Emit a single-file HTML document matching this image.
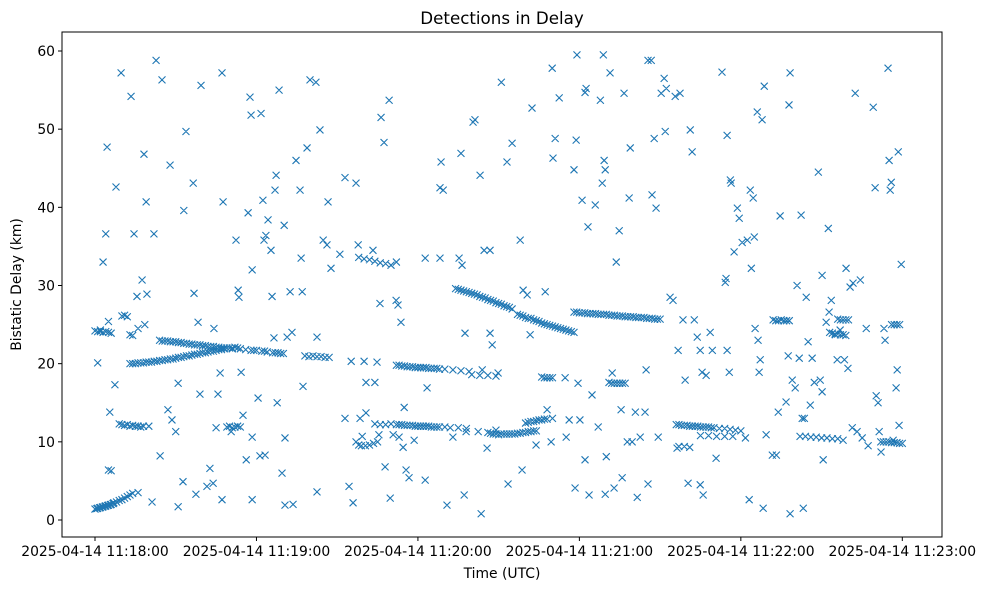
<!DOCTYPE html>
<html><head><meta charset="utf-8"><style>
body{margin:0;background:#fff;}
svg{display:block;font-family:"DejaVu Sans","Liberation Sans",sans-serif;}
</style></head><body>
<svg id="chart" width="985" height="590" viewBox="0 0 985 590">
<rect width="985" height="590" fill="#fff"/>
<text x="502" y="24" text-anchor="middle" font-size="16.7">Detections in Delay</text>
<g id="marks"></g>
<rect x="62" y="32" width="880" height="505" fill="none" stroke="#000" stroke-width="1"/>
<g id="xaxis"></g>
<g id="yaxis"></g>
<text x="502" y="578" text-anchor="middle" font-size="13.9">Time (UTC)</text>
<text transform="translate(21,284.5) rotate(-90)" text-anchor="middle" font-size="13.9">Bistatic Delay (km)</text>
</svg>
<script>
const xTicks=[0,60,120,180,240,300];
const xTickLabels=["2025-04-14 11:18:00","2025-04-14 11:19:00","2025-04-14 11:20:00","2025-04-14 11:21:00","2025-04-14 11:22:00","2025-04-14 11:23:00"];
const yTicks=[0,10,20,30,40,50,60];
const yTickLabels=["0","10","20","30","40","50","60"];
const lowTrack=[[0,1.4],[0.7,1.45],[1,1.5],[1.7,1.55],[2,1.6],[2.7,1.65],[3,1.7],[3.7,1.75],[4,1.8],[4.7,1.85],[5,1.9],[5.7,1.95],[6,2.0],[6.7,2.1],[7,2.2],[8,2.3],[9,2.5],[10,2.6],[11,2.8],[12,3.0],[13,3.2],[14,3.4],[16,3.5]];
const track24=[[0,24.2],[1,24.1],[2,24.1],[3,24.0],[4,24.1],[5,24.0],[6,23.9],[10,26.1],[11,26.2],[12,26.0],[13,23.7],[14,23.6],[16,24.5],[18.5,25.0],[5,6.4],[6,6.3]];
const track12a=[[9,12.3],[10,12.2],[11,12.1],[12,12.2],[13,12.0],[14,12.1],[15,12.0],[16,12.0],[17,11.9],[18,12.0],[20,12.0],[49,11.9],[50,12],[51,11.8],[52,11.9],[53,12],[54,11.9]];
const track20=[[13,20.0],[14,20.0],[15,20.0],[16,20.1],[17,20.1],[18,20.1],[19,20.2],[20,20.2],[21,20.2],[22,20.3],[23,20.3],[24,20.4],[25,20.4],[26,20.5],[27,20.5],[28,20.6],[29,20.6],[30,20.7],[31,20.8],[32,20.8],[33,20.9],[34,21.0],[35,21.0],[36,21.1],[37,21.2],[38,21.2],[39,21.3],[40,21.4],[41,21.4],[42,21.5],[43,21.6],[44,21.6],[45,21.7],[46,21.8],[47,21.8],[48,21.9],[49,22.0],[50,22.0],[51,22.0],[52,22.1],[53,22.0],[54,21.9],[56,21.8],[58,21.7],[59,21.7],[60,21.7],[62,21.6],[63,21.6],[64,21.5],[66,21.4],[67,21.4],[68,21.4],[69,21.3],[70,21.3]];
const track23=[[24,23.0],[25,22.9],[26,22.9],[27,22.9],[28,22.8],[29,22.8],[30,22.8],[31,22.7],[32,22.7],[33,22.6],[34,22.6],[35,22.5],[36,22.5],[37,22.4],[38,22.4],[39,22.4],[40,22.3],[41,22.3],[42,22.2],[43,22.2],[44,22.2],[45,22.1],[46,22.1],[47,22.0],[48,22.0],[49,22.0],[50,22.0],[51,21.9]];
const track21b=[[78,21.0],[79.5,20.9],[81,21.0],[82.5,20.9],[84,20.9],[85.5,20.8],[87,20.8]];
const track19=[[112,19.8],[113,19.8],[114,19.7],[115,19.7],[116,19.6],[117,19.6],[118,19.6],[119,19.5],[120,19.5],[121,19.5],[122,19.5],[123,19.5],[124,19.4],[125,19.4],[126,19.4],[127,19.4],[128,19.3],[130,19.3],[133,19.2],[136,19.1],[139,19.0]];
const track12b=[[104,12.3],[106,12.2],[108,12.2],[110,12.3],[112,12.2],[113,12.2],[114,12.2],[115,12.1],[116,12.1],[117,12.1],[118,12.1],[119,12.0],[120,12.0],[121,12.0],[122,12.0],[123,12.0],[124,12.0],[125,11.9],[126,11.9],[127,11.9],[128,11.9],[130,11.9],[132,11.8],[135,11.8],[138,11.7]];
const track29=[[134,29.6],[135,29.5],[136,29.4],[137,29.3],[138,29.2],[139,29.1],[140,29.0],[141,28.9],[142,28.8],[143,28.6],[144,28.5],[145,28.4],[146,28.2],[147,28.1],[148,28.0],[149,27.8],[150,27.7],[151,27.6],[152,27.4],[153,27.3],[154,27.2],[155,27.0]];
const track26=[[157,26.3],[158,26.2],[159,26.1],[160,25.9],[161,25.8],[162,25.8],[163,25.6],[164,25.5],[165,25.4],[166,25.2],[167,25.1],[168,25.0],[169,24.9],[170,24.8],[171,24.7],[172,24.6],[173,24.5],[174,24.4],[175,24.3],[176,24.2],[177,24.1],[178,24.0]];
const track26b=[[178,26.6],[179,26.6],[180,26.5],[181,26.5],[182,26.5],[183,26.4],[184,26.4],[185,26.4],[186,26.4],[187,26.3],[188,26.3],[189,26.3],[190,26.3],[191,26.2],[192,26.2],[193,26.2],[194,26.1],[195,26.1],[196,26.1],[197,26.0],[198,26.0],[199,26.0],[200,26.0],[201,25.9],[202,25.9],[203,25.9],[204,25.9],[205,25.8],[206,25.8],[207,25.8],[208,25.7],[209,25.7],[210,25.7]];
const track11=[[146,11.2],[147,11.1],[148,11.0],[149,11.0],[150,10.9],[151,11.0],[152,11.0],[153,11.0],[154,11.0],[155,11.0],[156,11.0],[157,11.1],[158,11.1],[159,11.2],[160,11.2],[161,11.3],[162,11.3],[163,11.4],[164,11.4],[160,12.4],[161,12.5],[162,12.6],[163,12.6],[164,12.7],[165,12.8],[166,12.8],[167,12.9],[168,12.9],[170,13.0]];
const track18=[[140,18.6],[143,18.5],[146,18.5],[149,18.4],[166,18.3],[167,18.2],[168,18.2],[169,18.2],[170,18.2]];
const track12c=[[216,12.2],[217,12.2],[218,12.1],[219,12.1],[220,12.1],[221,12.0],[222,12.0],[223,12.0],[224,12.0],[225,11.9],[226,11.9],[227,11.9],[228,11.9],[229,11.8],[230,11.8],[232,11.7],[234,11.7],[236,11.6],[238,11.5],[240,11.4],[225,10.8],[228,10.8],[231,10.7],[234,10.7],[237,10.7]];
const track25=[[252,25.6],[253,25.5],[254,25.5],[255,25.6],[256,25.5],[257,25.5],[258,25.5],[273,24.0],[274,23.9],[275,23.8],[276,23.8],[277,23.7],[278,23.7],[279,23.6],[276,25.7],[277,25.6],[278,25.6],[279,25.6],[280,25.6]];
const track10=[[262,10.7],[264,10.7],[266,10.6],[268,10.6],[270,10.5],[272,10.5],[274,10.4],[276,10.4],[292,10.0],[293,10.0],[294,10.0],[295,10.0],[296,9.9],[297,9.9],[298,9.9],[299,9.8],[300,9.8],[296,25.0],[297,25.0],[298,25.0],[299,25.0]];
const track9=[[97,10.0],[98,9.6],[99,9.5],[100.5,9.5],[102,9.6],[103.5,9.8],[105,10.0],[217,9.4],[219,9.4],[221,9.3],[191,17.6],[192,17.5],[193,17.5],[194,17.5],[195,17.5],[196,17.5],[197,17.5],[98,33.6],[100,33.4],[102,33.3],[104,33.1],[106,32.9],[108,32.8],[110,32.6],[112,33.0]];
const scattered=[[1,20.1],[2,24.3],[3,33],[4,36.6],[4.5,47.7],[5,25.4],[5.5,13.8],[7.4,17.3],[7.8,42.6],[9.7,57.2],[13.4,54.2],[14.5,36.6],[15.6,28.6],[17.5,30.7],[18.2,46.8],[19,40.7],[19.3,28.9],[21.2,2.3],[21.9,36.6],[22.7,58.8],[24.2,8.2],[24.9,56.3],[27.1,14.1],[27.9,45.4],[28.6,12.8],[30,11.3],[30.9,17.5],[30.9,1.7],[32.7,4.9],[33,39.6],[33.8,49.7],[36.5,43.1],[36.8,29],[37.5,3.3],[38.3,25.3],[39,16.1],[39.4,55.6],[41.6,4.3],[42.7,6.6],[43.9,4.7],[44.2,24.5],[45,11.8],[45.7,16.1],[46.5,18.8],[47.2,57.2],[47.2,2.6],[47.6,40.7],[50.6,11.3],[52.4,35.8],[53.2,29.4],[53.5,28.5],[54.3,18.9],[55,13.4],[56.2,7.7],[56.9,39.3],[57.6,54.1],[58,51.8],[58.4,32],[58.4,10.6],[58.4,2.6],[60.6,15.6],[61.3,8.2],[61.7,52],[62.4,40.9],[62.8,35.8],[63.2,8.3],[63.5,36.4],[64.3,38.4],[65.4,34.5],[65.8,28.6],[66.5,23.3],[66.9,42.2],[67.3,44.1],[67.7,15],[68.4,55],[69.5,6],[70.3,37.7],[70.6,10.5],[70.6,1.9],[71.4,23.4],[72.5,29.2],[73.2,24],[73.6,2],[74.7,46],[76.2,42.2],[76.6,33.5],[77,29.2],[77.3,17.1],[78.8,47.6],[79.9,56.3],[82.1,56],[82.5,23.4],[82.5,3.6],[83.6,49.9],[84.8,35.8],[86.2,35.2],[86.6,40.7],[87.7,32.2],[91,34],[92.9,43.8],[92.9,13],[94.4,4.3],[95.2,20.3],[95.9,2.2],[97,43.1],[97.8,35.2],[98.5,13],[99.3,10.7],[100,20.3],[100.7,17.6],[100.7,13.7],[103.3,34.5],[104,17.6],[104.8,20.2],[105.5,10.9],[105.9,27.7],[106.3,51.5],[107.4,48.3],[107.8,6.8],[109.3,53.7],[109.7,2.8],[110.8,10.9],[111.9,28.1],[112.6,27.5],[113,10.6],[113.7,25.3],[114.5,9.3],[114.9,14.4],[115.6,6.4],[116.7,5.4],[118.6,10.2],[122.7,33.5],[122.7,5.1],[123.4,16.9],[128.2,33.5],[128.2,42.5],[128.6,45.8],[129.4,42.2],[130.8,1.9],[133,10.6],[135.3,33.5],[136,46.9],[136.4,32.6],[137.2,3.2],[137.5,23.9],[137.9,11.3],[140.5,50.9],[141.2,51.2],[142.4,11.3],[143.1,44.1],[143.5,0.8],[143.9,19.2],[144.6,34.5],[145.7,9.2],[146.8,34.5],[146.8,23.9],[147.6,22.4],[149,11.5],[149.8,18.8],[151,56],[153.1,45.8],[153.5,4.6],[155,48.2],[158,35.8],[158.7,6.4],[159.1,29.4],[160.6,28.8],[161.7,23.7],[162.4,52.7],[163.9,9.6],[167.3,29.2],[168,14.1],[169.5,10],[169.9,57.8],[170.2,46.3],[171,48.8],[172.5,54],[174.7,18.2],[175.1,10.6],[176.2,12.8],[178,44.8],[178.4,4.1],[178.8,48.6],[179.1,59.5],[179.5,17.5],[180.2,12.8],[181,40.9],[182.1,54.7],[182.1,7.7],[182.5,55.2],[183.2,37.5],[183.6,3.2],[184.7,16],[185.9,40.3],[187,11.9],[187.8,53.7],[188.5,43.1],[189.2,46],[189.6,44.8],[189.6,3.3],[188.9,59.5],[190,8.1],[191.4,57.2],[192.2,18.8],[192.9,4.1],[193.7,33],[194.8,37],[195.5,14.1],[195.9,5.4],[196.6,54.6],[197.8,10],[198.5,41.2],[198.9,47.6],[199.6,10],[200.8,13.8],[201.5,2.9],[202.6,10.6],[204.4,13.8],[204.8,19.2],[205.5,4.6],[205.5,58.8],[206.7,58.8],[207,41.6],[207.8,48.8],[208.5,39.9],[209.3,10.6],[210.4,54.6],[211.5,56.5],[211.9,49.7],[212.3,55.2],[213.7,28.5],[214.8,28.1],[215.6,54.2],[216.3,9.2],[216.7,21.7],[217.4,54.6],[218.5,25.6],[219.3,17.9],[220.4,4.7],[221.2,49.9],[221.9,47.1],[222.7,25.6],[223.8,23.4],[224.9,21.7],[224.9,4.5],[225.6,18.9],[226,3.2],[227.1,18.5],[228.6,24],[229.4,21.7],[230.8,7.9],[233,57.3],[234.2,30.4],[234.5,30.9],[234.9,49.2],[234.9,21.7],[235.7,18.9],[236.1,43.5],[236.4,43.1],[237.5,34.3],[238.7,39.9],[239.4,38.6],[240.5,35.5],[241.7,10.5],[242.4,35.8],[243.1,2.6],[243.5,42.2],[243.9,32.2],[244.6,41.2],[245,36.2],[245.3,24.5],[246.1,52.2],[246.4,23],[246.8,18.9],[247.2,20.5],[247.9,51.2],[248.3,1.5],[248.7,55.5],[249.4,10.9],[251.7,8.3],[253.2,8.3],[253.9,13.8],[254.6,38.9],[256.8,15.1],[257.6,21],[257.9,53.1],[258.3,57.2],[258.3,0.8],[259.1,17.9],[260.2,16.9],[260.9,30],[261.7,20.7],[262.4,39],[262.8,13],[263.2,1.5],[263.6,13],[264.3,28.5],[265,22.8],[265.8,14.7],[266.5,20.7],[267.3,17.6],[268.8,44.5],[269.5,17.9],[270.2,16.4],[270.2,31.3],[270.6,7.7],[271.7,25.3],[272.5,37.3],[272.8,26.6],[273.6,28.1],[275.1,23.7],[275.8,20.5],[276.9,24.3],[278,10.2],[278.5,20.5],[279.1,32.2],[279.8,19.4],[280.6,29.8],[281.4,11.8],[281.7,30.3],[282.5,54.6],[283.2,11.3],[284.4,30.7],[285.1,10.5],[286.6,24.5],[287.3,9.5],[289.2,52.8],[289.9,42.5],[290.3,15.9],[291,15],[291.4,11.3],[292.1,8.7],[293.2,24.5],[293.6,23],[294.7,57.8],[295.1,46],[295.5,42.2],[295.9,43.2],[296.6,10.2],[297.7,16.9],[298.1,19.2],[298.8,12.1],[299.6,32.7],[298.5,47.1]];

const groups=[lowTrack,track24,track12a,track20,track23,track21b,track19,track12b,track29,track26,track26b,track11,track18,track12c,track25,track10,track9,scattered];
const X0=95,X1=902.3,T0=0,T1=300,Y0=520,Y60=51;
function xScale(t){return X0+(t-T0)*(X1-X0)/(T1-T0);}
function yScale(d){return Y0+(d)*(Y60-Y0)/60;}
const NS="http://www.w3.org/2000/svg";
const marks=document.getElementById('marks');
let path="";
groups.forEach(g=>g.forEach(p=>{const x=xScale(p[0]),y=yScale(p[1]),r=3.5;path+=`M${x-r},${y-r}L${x+r},${y+r}M${x-r},${y+r}L${x+r},${y-r}`;}));
const pe=document.createElementNS(NS,'path');
pe.setAttribute('d',path);pe.setAttribute('stroke','#1f77b4');pe.setAttribute('stroke-width','1.1');pe.setAttribute('fill','none');


marks.appendChild(pe);
const xa=document.getElementById('xaxis');
xTicks.forEach((t,i)=>{const x=xScale(t);
const l=document.createElementNS(NS,'line');l.setAttribute('x1',x);l.setAttribute('x2',x);l.setAttribute('y1',537);l.setAttribute('y2',541);l.setAttribute('stroke','#000');


xa.appendChild(l);
const tx=document.createElementNS(NS,'text');tx.setAttribute('x',x);tx.setAttribute('y',556);tx.setAttribute('text-anchor','middle');tx.setAttribute('font-size','13.9');tx.textContent=xTickLabels[i];


xa.appendChild(tx);});
const ya=document.getElementById('yaxis');
yTicks.forEach((d,i)=>{const y=yScale(d);
const l=document.createElementNS(NS,'line');l.setAttribute('x1',58);l.setAttribute('x2',62);l.setAttribute('y1',y);l.setAttribute('y2',y);l.setAttribute('stroke','#000');


ya.appendChild(l);
const tx=document.createElementNS(NS,'text');tx.setAttribute('x',55);tx.setAttribute('y',y+5);tx.setAttribute('text-anchor','end');tx.setAttribute('font-size','13.9');tx.textContent=yTickLabels[i];


ya.appendChild(tx);});
</script>
</body></html>
